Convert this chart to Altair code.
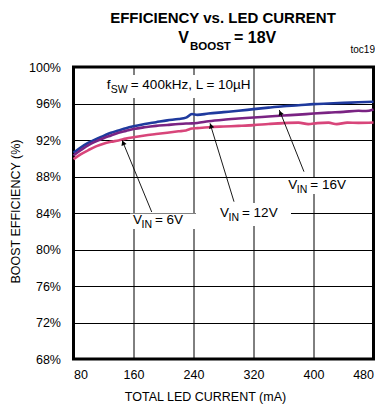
import altair as alt
import pandas as pd

FONT = "Liberation Sans, Arial, sans-serif"
FONT_B = "Liberation Sans, Arial, sans-serif"

# ---- data ----
x_16 = [80, 90, 100, 110, 120, 130, 140, 150, 160, 175, 190, 205, 220, 230, 238, 245, 260, 280, 300, 320, 340, 360, 380, 400, 420, 440, 460, 480]
y_16 = [90.6, 91.2, 91.7, 92.1, 92.45, 92.8, 93.05, 93.3, 93.5, 93.75, 93.95, 94.15, 94.3, 94.45, 94.85, 94.75, 94.9, 95.05, 95.2, 95.38, 95.55, 95.7, 95.8, 95.93, 96.0, 96.07, 96.13, 96.2]

x_12 = [80, 90, 100, 110, 120, 130, 140, 150, 160, 175, 190, 205, 220, 230, 238, 245, 260, 280, 300, 320, 340, 360, 380, 400, 420, 440, 460, 470, 480]
y_12 = [90.3, 90.9, 91.45, 91.85, 92.2, 92.5, 92.8, 93.0, 93.2, 93.4, 93.55, 93.65, 93.75, 93.8, 93.82, 93.87, 94.05, 94.22, 94.35, 94.47, 94.57, 94.68, 94.78, 94.9, 95.0, 95.08, 95.2, 95.17, 95.35]

x_6 = [80, 90, 100, 110, 120, 130, 140, 150, 160, 175, 190, 205, 220, 230, 238, 245, 260, 280, 300, 320, 340, 360, 380, 393, 405, 420, 431, 445, 460, 480]
y_6 = [89.9, 90.45, 90.9, 91.3, 91.6, 91.8, 91.95, 92.15, 92.3, 92.5, 92.65, 92.8, 92.95, 93.05, 93.25, 93.3, 93.4, 93.48, 93.55, 93.63, 93.75, 93.85, 93.9, 93.74, 93.85, 93.9, 93.74, 93.9, 93.88, 93.92]

series_names = ["16V", "12V", "6V"]
series_colors = ["#1f3a9e", "#7a2383", "#d8457a"]

x_ticks = [80, 160, 240, 320, 400, 480]
y_ticks = [68, 72, 76, 80, 84, 88, 92, 96, 100]

# annotation labels (V_IN = ...), anchored at left edge of "V"
lab_x = [159.3, 275.3, 366.4]
lab_y = [83.23, 83.97, 87.07]
lab_rest = ["= 6V", "= 12V", "= 16V"]

# white boxes behind labels
box_x = [120.7, 155.3, 243.3, 362.0]
box_x2 = [312.7, 243.3, 370.0, 442.0]
box_y = [99.12, 83.95, 85.1, 87.84]
box_y2 = [96.6, 82.25, 82.58, 86.08]

# leader lines
lead_x = [184.3, 294.0, 387.3]
lead_y = [84.11, 85.24, 88.53]
lead_x2 = [144.7, 262.0, 354.4]
lead_y2 = [92.0, 93.83, 95.29]
head_x = [146.2, 263.2, 355.8]
head_y = [91.7, 93.55, 94.97]
head_angle = [337.6, 343.0, 338.2]

# ---- tables ----
rows = []
for name, xs_, ys_ in [("16V", x_16, y_16), ("12V", x_12, y_12), ("6V", x_6, y_6)]:
    for a, b in zip(xs_, ys_):
        rows.append({"series": name, "current": a, "eff": b})
curves = pd.DataFrame(rows)
labels = pd.DataFrame({"x": lab_x, "y": lab_y, "rest": lab_rest})
boxes = pd.DataFrame({"x": box_x, "x2": box_x2, "y": box_y, "y2": box_y2})
leads = pd.DataFrame({"x": lead_x, "y": lead_y, "x2": lead_x2, "y2": lead_y2})
heads = pd.DataFrame({"x": head_x, "y": head_y, "a": head_angle})
fsw = pd.DataFrame({"x": [124.3], "y": [98.03]})

xs = alt.Scale(domain=[80, 480], nice=False, zero=False)
ys = alt.Scale(domain=[68, 100], nice=False, zero=False)

x_axis = alt.Axis(
    values=x_ticks, title="TOTAL LED CURRENT (mA)", grid=True, gridColor="black",
    gridWidth=1, gridOpacity=1, domain=False, ticks=False, labelPadding=9,
    labelFont=FONT, labelFontSize=12.5, labelColor="black", labelOverlap=False,
    titleFont=FONT, titleFontSize=12.5, titleFontWeight="normal", titleColor="black",
    titleX=131.5, titleY=41, titleBaseline="alphabetic", titleAlign="center")
y_axis = alt.Axis(
    values=y_ticks, labelExpr="datum.value + '%'", title="BOOST EFFICIENCY (%)",
    grid=True, gridColor="black", gridWidth=1, gridOpacity=1, domain=False, ticks=False,
    labelPadding=13, labelFont=FONT, labelFontSize=12.5, labelColor="black", labelOverlap=False,
    titleFont=FONT, titleFontSize=12.5, titleFontWeight="normal", titleColor="black",
    titleX=-58, titleY=144, titleAngle=270, titleBaseline="middle", titleAlign="center")


def X(f):
    return alt.X(f, scale=xs, axis=x_axis)


def Y(f):
    return alt.Y(f, scale=ys, axis=y_axis)


curve = alt.Chart(curves).mark_line(strokeWidth=2.6, interpolate="monotone").encode(
    x=X("current:Q"),
    y=Y("eff:Q"),
    color=alt.Color("series:N", scale=alt.Scale(domain=series_names, range=series_colors), legend=None),
    order=alt.Order("current:Q"),
)

box = alt.Chart(boxes).mark_rect(color="white", opacity=1).encode(
    x=X("x:Q"), x2="x2", y=Y("y:Q"), y2="y2")

lead = alt.Chart(leads).mark_rule(color="black", strokeWidth=0.9).encode(
    x=X("x:Q"), x2="x2", y=Y("y:Q"), y2="y2")

head = alt.Chart(heads).mark_point(shape="triangle-up", filled=True, color="black", size=30, opacity=1).encode(
    x=X("x:Q"), y=Y("y:Q"), angle=alt.Angle("a:Q", scale=None))

lab_v = alt.Chart(labels).mark_text(text="V", align="left", baseline="middle", font=FONT, fontSize=13.5, color="black").encode(
    x=X("x:Q"), y=Y("y:Q"))
lab_in = alt.Chart(labels).mark_text(text="IN", align="left", baseline="middle", font=FONT, fontSize=10.5, color="black", dx=8.5, dy=5).encode(
    x=X("x:Q"), y=Y("y:Q"))
lab_r = alt.Chart(labels).mark_text(align="left", baseline="middle", font=FONT, fontSize=13.5, color="black", dx=22).encode(
    x=X("x:Q"), y=Y("y:Q"), text="rest:N")

f_main = alt.Chart(fsw).mark_text(text="f", align="left", baseline="middle", font=FONT, fontSize=13.5, color="black").encode(
    x=X("x:Q"), y=Y("y:Q"))
f_sub = alt.Chart(fsw).mark_text(text="SW", align="left", baseline="middle", font=FONT, fontSize=10.5, color="black", dx=4, dy=5).encode(
    x=X("x:Q"), y=Y("y:Q"))
f_rest = alt.Chart(fsw).mark_text(text="= 400kHz, L = 10\u00b5H", align="left", baseline="middle", font=FONT, fontSize=13.5, color="black", dx=24).encode(
    x=X("x:Q"), y=Y("y:Q"))

one = pd.DataFrame({"k": [0]})
t1 = alt.Chart(one).mark_text(text="EFFICIENCY vs. LED CURRENT", align="center", baseline="alphabetic",
                              font=FONT_B, fontSize=15, fontWeight="bold", color="black").encode(
    x=alt.value(149.5), y=alt.value(-44))
t2a = alt.Chart(one).mark_text(text="V", align="left", baseline="alphabetic",
                               font=FONT_B, fontSize=16, fontWeight="bold", color="black").encode(
    x=alt.value(104.8), y=alt.value(-24))
t2b = alt.Chart(one).mark_text(text="BOOST", align="left", baseline="alphabetic",
                               font=FONT_B, fontSize=11.5, fontWeight="bold", color="black").encode(
    x=alt.value(116.5), y=alt.value(-17.5))
t2c = alt.Chart(one).mark_text(text="= 18V", align="left", baseline="alphabetic",
                               font=FONT_B, fontSize=16, fontWeight="bold", color="black").encode(
    x=alt.value(160.5), y=alt.value(-24))
toc = alt.Chart(one).mark_text(text="toc19", align="right", baseline="alphabetic",
                               font=FONT, fontSize=10, color="black").encode(
    x=alt.value(301.5), y=alt.value(-14))

chart = alt.layer(box, curve, lead, head, lab_v, lab_in, lab_r, f_main, f_sub, f_rest,
                  t1, t2a, t2b, t2c, toc).properties(
    width=300, height=292,
    padding={"left": 65.5, "top": 59, "right": 1.5, "bottom": 45},
    autosize=alt.AutoSizeParams(type="none"),
    background="white",
).configure_view(stroke="black", strokeWidth=3)

chart.save("out.html", embed_options={"renderer": "svg", "actions": False})
